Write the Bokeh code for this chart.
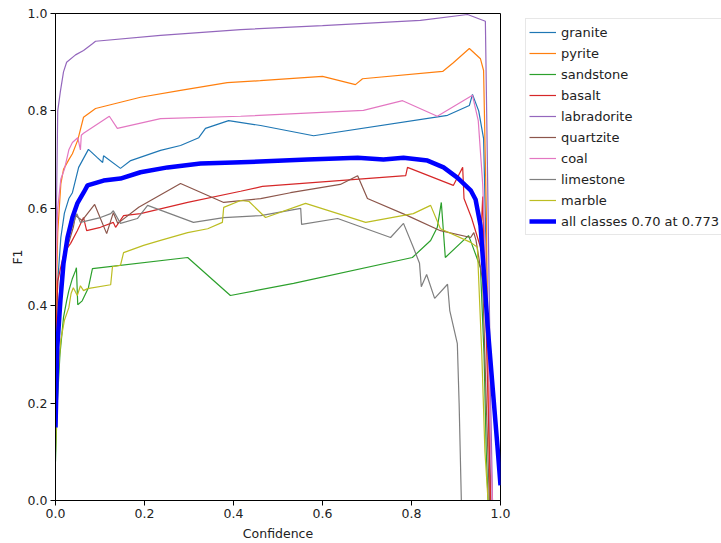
from bokeh.plotting import figure
from bokeh.models import Legend, LegendItem, Range1d, FixedTicker
from bokeh.embed import file_html
from bokeh.resources import INLINE

# ---------------- data ----------------
class_names = ["granite", "pyrite", "sandstone", "basalt", "labradorite",
               "quartzite", "coal", "limestone", "marble"]
class_colors = ["#1f77b4", "#ff7f0e", "#2ca02c", "#d62728", "#9467bd",
                "#8c564b", "#e377c2", "#7f7f7f", "#bcbd22"]

granite_conf = [0.0, 0.005, 0.012, 0.02, 0.03, 0.038, 0.052, 0.074, 0.094, 0.106, 0.108, 0.146, 0.169,
                0.236, 0.281, 0.322, 0.337, 0.389, 0.461, 0.58, 0.881, 0.93, 0.937, 0.951, 0.962,
                0.968, 0.974, 0.978]
granite_f1 = [0.30, 0.45, 0.54, 0.59, 0.62, 0.632, 0.684, 0.721, 0.704, 0.694, 0.708, 0.682, 0.698,
              0.719, 0.729, 0.745, 0.764, 0.780, 0.770, 0.749, 0.791, 0.811, 0.834, 0.800, 0.743,
              0.5, 0.2, 0.0]

pyrite_conf = [0.0, 0.005, 0.012, 0.018, 0.03, 0.038, 0.05, 0.063, 0.09, 0.191, 0.281, 0.386, 0.46,
               0.6, 0.674, 0.69, 0.87, 0.894, 0.93, 0.955, 0.962, 0.968, 0.973, 0.976]
pyrite_f1 = [0.35, 0.55, 0.65, 0.68, 0.70, 0.712, 0.74, 0.787, 0.805, 0.828, 0.842, 0.858, 0.862,
             0.871, 0.854, 0.866, 0.881, 0.899, 0.928, 0.907, 0.883, 0.6, 0.2, 0.0]

sandstone_conf = [0.0, 0.004, 0.01, 0.018, 0.025, 0.03, 0.038, 0.045, 0.047, 0.05, 0.06, 0.074, 0.083,
                  0.297, 0.393, 0.535, 0.802, 0.843, 0.858, 0.867, 0.876, 0.928, 0.935, 0.955,
                  0.963, 0.968, 0.972]
sandstone_f1 = [0.08, 0.2, 0.3, 0.376, 0.41, 0.431, 0.456, 0.472, 0.478, 0.402, 0.41, 0.437, 0.476,
                0.499, 0.421, 0.446, 0.499, 0.534, 0.561, 0.612, 0.499, 0.544, 0.528, 0.478,
                0.3, 0.1, 0.0]

basalt_conf = [0.0, 0.005, 0.012, 0.02, 0.034, 0.049, 0.063, 0.07, 0.101, 0.13, 0.135, 0.153, 0.191,
               0.297, 0.416, 0.465, 0.787, 0.791, 0.894, 0.915, 0.918, 0.935, 0.955, 0.96, 0.965,
               0.972, 0.978]
basalt_f1 = [0.30, 0.45, 0.48, 0.51, 0.528, 0.554, 0.581, 0.554, 0.561, 0.571, 0.561, 0.585, 0.589,
             0.612, 0.635, 0.645, 0.667, 0.684, 0.647, 0.684, 0.62, 0.58, 0.52, 0.624, 0.45,
             0.2, 0.0]

labradorite_conf = [0.0, 0.005, 0.011, 0.018, 0.025, 0.045, 0.063, 0.083, 0.09, 0.236, 0.416, 0.6,
                    0.82, 0.926, 0.966, 0.972, 0.978, 0.982]
labradorite_f1 = [0.45, 0.80, 0.84, 0.88, 0.90, 0.915, 0.924, 0.938, 0.943, 0.955, 0.967, 0.975,
                  0.986, 0.998, 0.984, 0.6, 0.2, 0.0]

quartzite_conf = [0.0, 0.005, 0.012, 0.02, 0.03, 0.04, 0.045, 0.06, 0.088, 0.115, 0.13, 0.14, 0.187,
                  0.281, 0.378, 0.461, 0.528, 0.64, 0.679, 0.701, 0.791, 0.865, 0.933, 0.94, 0.945,
                  0.96, 0.968, 0.975]
quartzite_f1 = [0.2, 0.38, 0.46, 0.5, 0.53, 0.561, 0.585, 0.575, 0.608, 0.548, 0.591, 0.569, 0.602,
                0.651, 0.612, 0.62, 0.632, 0.649, 0.667, 0.62, 0.585, 0.554, 0.54, 0.55, 0.534,
                0.45, 0.2, 0.0]

coal_conf = [0.0, 0.005, 0.012, 0.02, 0.03, 0.038, 0.05, 0.056, 0.058, 0.063, 0.121, 0.139, 0.236,
             0.416, 0.692, 0.78, 0.858, 0.937, 0.95, 0.96, 0.97, 0.978, 0.982]
coal_f1 = [0.42, 0.6, 0.66, 0.68, 0.72, 0.735, 0.745, 0.72, 0.75, 0.754, 0.789, 0.764, 0.784,
           0.789, 0.801, 0.821, 0.789, 0.832, 0.78, 0.65, 0.4, 0.1, 0.0]

limestone_conf = [0.0, 0.005, 0.012, 0.02, 0.03, 0.04, 0.048, 0.056, 0.101, 0.124, 0.13, 0.146,
                  0.184, 0.207, 0.31, 0.378, 0.461, 0.551, 0.553, 0.634, 0.753, 0.782, 0.804,
                  0.818, 0.822, 0.834, 0.852, 0.881, 0.886, 0.903, 0.907, 0.912]
limestone_f1 = [0.2, 0.35, 0.45, 0.5, 0.54, 0.569, 0.589, 0.571, 0.581, 0.589, 0.595, 0.569,
                0.579, 0.606, 0.571, 0.581, 0.585, 0.60, 0.567, 0.579, 0.54, 0.569, 0.52,
                0.487, 0.439, 0.464, 0.415, 0.444, 0.39, 0.322, 0.2, 0.0]

marble_conf = [0.0, 0.005, 0.012, 0.02, 0.03, 0.035, 0.04, 0.049, 0.056, 0.063, 0.072, 0.124, 0.128,
               0.146, 0.153, 0.198, 0.236, 0.297, 0.342, 0.375, 0.378, 0.416, 0.435, 0.472, 0.562,
               0.697, 0.804, 0.843, 0.865, 0.933, 0.948, 0.958, 0.965, 0.972]
marble_f1 = [0.1, 0.25, 0.33, 0.37, 0.396, 0.425, 0.437, 0.421, 0.441, 0.431, 0.435, 0.443, 0.48,
             0.483, 0.509, 0.524, 0.534, 0.55, 0.558, 0.571, 0.602, 0.616, 0.614, 0.581, 0.61,
             0.571, 0.589, 0.606, 0.558, 0.53, 0.52, 0.3, 0.1, 0.0]

all_conf = [0.0, 0.004, 0.011, 0.018, 0.027, 0.038, 0.049, 0.063, 0.072, 0.108, 0.146, 0.191, 0.252,
            0.326, 0.4, 0.566, 0.679, 0.737, 0.782, 0.836, 0.872, 0.903, 0.933, 0.944, 0.955,
            0.962, 0.971, 0.982, 0.993, 1.0]
all_f1 = [0.15, 0.314, 0.41, 0.487, 0.54, 0.581, 0.61, 0.632, 0.647, 0.657, 0.661, 0.674, 0.684,
          0.692, 0.694, 0.70, 0.704, 0.70, 0.704, 0.698, 0.684, 0.663, 0.637, 0.618, 0.565,
          0.476, 0.359, 0.236, 0.113, 0.031]
all_label = "all classes 0.70 at 0.773"

tick_values = [0.0, 0.2, 0.4, 0.6, 0.8, 1.0]

series = [
    (granite_conf, granite_f1), (pyrite_conf, pyrite_f1), (sandstone_conf, sandstone_f1),
    (basalt_conf, basalt_f1), (labradorite_conf, labradorite_f1), (quartzite_conf, quartzite_f1),
    (coal_conf, coal_f1), (limestone_conf, limestone_f1), (marble_conf, marble_f1),
]

# ---------------- figure ----------------
FONT = "DejaVu Sans"
p = figure(frame_width=445, frame_height=487, output_backend="svg", toolbar_location=None,
           x_range=Range1d(0, 1), y_range=Range1d(0, 1),
           min_border_left=55, min_border_right=221, min_border_top=13, min_border_bottom=43,
           background_fill_color="white", border_fill_color="white")
p.grid.visible = False
p.outline_line_color = "black"
p.outline_line_width = 1

items = []
for name, color, (cx, cy) in zip(class_names, class_colors, series):
    r = p.line(cx, cy, line_color=color, line_width=1.2)
    items.append(LegendItem(label=name, renderers=[r]))
r_all = p.line(all_conf, all_f1, line_color="#0000ff", line_width=4.5, line_join="round")
items.append(LegendItem(label=all_label, renderers=[r_all]))

for ax in (p.xaxis[0], p.yaxis[0]):
    ax.ticker = FixedTicker(ticks=tick_values)
    ax.major_tick_out = 5
    ax.major_tick_in = 0
    ax.minor_tick_line_color = None
    ax.axis_line_color = "black"
    ax.major_tick_line_color = "black"
    ax.major_label_text_font = FONT
    ax.major_label_text_font_size = "12.5px"
    ax.major_label_text_color = "#222222"
    ax.axis_label_text_font = FONT
    ax.axis_label_text_font_size = "12.5px"
    ax.axis_label_text_font_style = "normal"
    ax.axis_label_text_color = "#222222"
    ax.major_label_standoff = 3

p.xaxis.axis_label = "Confidence"
p.yaxis.axis_label = "F1"
p.xaxis.axis_label_standoff = 5
p.yaxis.axis_label_standoff = 0
p.xaxis.major_label_overrides = {v: f"{v:.1f}" for v in tick_values}
p.yaxis.major_label_overrides = {v: f"{v:.1f}" for v in tick_values}

legend = Legend(items=items, location=(25, 265), orientation="vertical")
legend.label_text_font = FONT
legend.label_text_font_size = "13px"
legend.label_text_color = "#222222"
legend.glyph_width = 27
legend.glyph_height = 20
legend.label_height = 20
legend.spacing = 1
legend.padding = 3
legend.margin = 0
legend.label_standoff = 5
legend.border_line_color = "#d0d0d0"
legend.border_line_width = 1
legend.background_fill_color = "white"
legend.background_fill_alpha = 1.0
p.add_layout(legend, "right")

open("out.html", "w").write(file_html(p, INLINE))
